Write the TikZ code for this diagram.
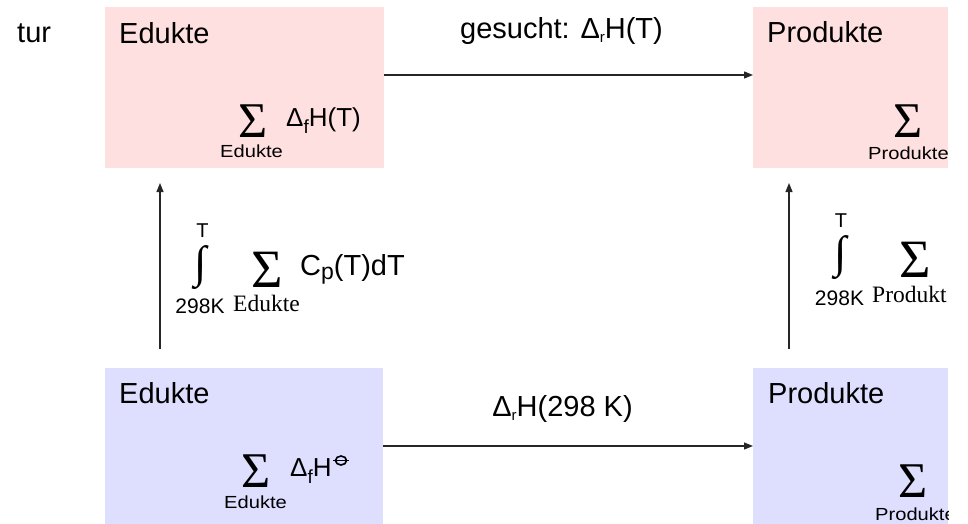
\documentclass[tikz,border=0pt]{standalone}
\usepackage{fontspec}
\setmainfont{Liberation Sans}
\newfontfamily\serifz{Liberation Serif}
\usetikzlibrary{arrows.meta}
\definecolor{pinkfill}{RGB}{255,224,224}
\definecolor{bluefill}{RGB}{222,222,255}
\newcommand\fs[1]{\fontsize{#1}{#1}\selectfont}
\newcommand\lsub[3]{\lower#1pt\hbox{\fs{#2}#3}}
\newcommand\bigint{\resizebox*{!}{44pt}{\serifz ∫}}
\begin{document}
\begin{tikzpicture}[x=1pt,y=-1pt,
  box/.style={draw=none, inner sep=0, outer sep=0, anchor=north west},
  pinkbox/.style={box, fill=pinkfill},
  bluebox/.style={box, fill=bluefill},
  lbl/.style={inner sep=0, anchor=base west, font={\fs{29}}},
  math/.style={inner sep=0, anchor=base west, font={\fs{26}}},
  subl/.style={inner sep=0, anchor=base west, font={\fs{17.5}}, text height=12pt, text depth=0pt},
  serl/.style={inner sep=0, anchor=base, font={\serifz\fs{23.5}}, text height=16pt, text depth=0pt},
  sig/.style={inner sep=0, anchor=base, font={\serifz\fs{50}}, text height=32pt, text depth=0pt},
  bigsig/.style={inner sep=0, anchor=base, font={\serifz\fs{54}}, text height=35pt, text depth=0pt},
  lim/.style={inner sep=0, anchor=base, font={\fs{20}}, text height=14pt, text depth=0pt},
  intg/.style={inner sep=0, anchor=center},
  arr/.style={line width=1.2pt, draw=black!85, -{Triangle[length=9pt,width=7pt]}},
]
\useasboundingbox (0,0) rectangle (968,524);
\begin{scope}
\clip (0,0) rectangle (948,524);
% boxes
\node[pinkbox, minimum width=279pt, minimum height=161pt] (et) at (105,7) {};
\node[pinkbox, minimum width=195pt, minimum height=161pt] (pt) at (753,7) {};
\node[bluebox, minimum width=278pt, minimum height=156pt] (eb) at (105,368) {};
\node[bluebox, minimum width=195pt, minimum height=156pt] (pb) at (753,368) {};

% top row texts
\node[lbl] (tur) at (17,43) {tur};
\node[lbl] (etl) at (119,44) {Edukte};
\node[lbl, anchor=base] (gs) at (561.5,39) {gesucht: Δ\lsub{4}{15}{r}H(T)};
\node[lbl] (ptl) at (767,43) {Produkte};
\node[sig] (s1) at (253,137) {Σ};
\node[subl] (s1u) at (220,157) {\scalebox{1.15}[1]{Edukte}};
\node[math] (dh1) at (286,126) {Δ\lsub{7}{19}{f}H(T)};
\node[sig] (s2) at (908.5,137) {Σ};
\node[subl] (s2u) at (868,159) {\scalebox{1.15}[1]{Produkte}};

% middle left
\node[lim] (t1) at (202.5,237) {T};
\node[intg] (i1) at (200.5,267.5) {\bigint};
\node[lim, font={\fs{21}}] (k1) at (200,313) {298K};
\node[bigsig] (s3) at (267,287) {Σ};
\node[serl] (s3u) at (266.5,311) {Edukte};
\node[lbl] (cp) at (300,275) {C\lsub{4}{23}{p}(T)dT};

% middle right
\node[lim] (t2) at (841,227) {T};
\node[intg] (i2) at (841,257.5) {\bigint};
\node[lim, font={\fs{21}}] (k2) at (839.5,305) {298K};
\node[bigsig] (s4) at (915.5,277) {Σ};
\node[serl, anchor=base west] (s4u) at (872,302) {Produkt};

% bottom row
\node[lbl] (ebl) at (119,403) {Edukte};
\node[sig] (s5) at (256.5,487) {Σ};
\node[subl] (s5u) at (224,508) {\scalebox{1.15}[1]{Edukte}};
\node[math] (dh2) at (290,476) {Δ\lsub{7}{19}{f}H};
\draw[line width=1.6pt] (341,460.5) ellipse [x radius=5.5, y radius=4.5];
\draw[line width=1.6pt] (333,460.5) -- (349,460.5);
\node[lbl, anchor=base] (dr) at (562.5,416) {Δ\lsub{4}{15}{r}H(298 K)};
\node[lbl] (pbl) at (768,403) {Produkte};
\node[sig] (s6) at (913.5,497) {Σ};
\node[subl] (s6u) at (875,520) {\scalebox{1.15}[1]{Produkte}};

% connectors
\draw[arr] ([yshift=12.5pt]et.east) -- ([yshift=12.5pt]pt.west);
\draw[arr] (eb.east) -- (pb.west);
\draw[arr] ([xshift=55pt,yshift=19pt]eb.north west) -- ([xshift=55pt,yshift=-15pt]et.south west);
\draw[arr] ([xshift=36pt,yshift=19pt]pb.north west) -- ([xshift=36pt,yshift=-15pt]pt.south west);
\end{scope}
\end{tikzpicture}
\end{document}
